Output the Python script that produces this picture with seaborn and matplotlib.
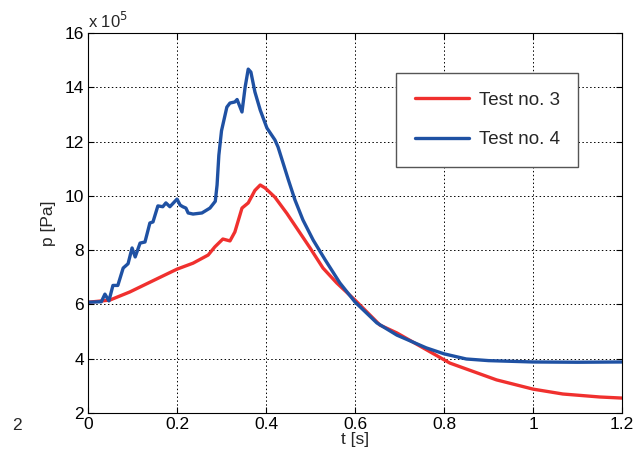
import numpy as np
import pandas as pd
import matplotlib
matplotlib.use("Agg")
import matplotlib.pyplot as plt
import seaborn as sns

# Test no. 3 (red) - time [s], pressure [x 1e5 Pa]
t_test3 = [0.0, 0.049, 0.094, 0.162, 0.2, 0.236, 0.27, 0.285, 0.303, 0.319,
           0.33, 0.346, 0.36, 0.375, 0.387, 0.398, 0.42, 0.447, 0.472, 0.499,
           0.528, 0.559, 0.6, 0.656, 0.694, 0.753, 0.813, 0.918, 1.0, 1.067,
           1.15, 1.2]
p_test3 = [6.08, 6.16, 6.46, 7.0, 7.3, 7.52, 7.82, 8.12, 8.41, 8.34,
           8.67, 9.55, 9.74, 10.2, 10.4, 10.29, 9.95, 9.35, 8.74, 8.08,
           7.34, 6.79, 6.16, 5.24, 4.95, 4.4, 3.84, 3.22, 2.88, 2.7,
           2.59, 2.55]

# Test no. 4 (blue)
t_test4 = [0.0, 0.03, 0.038, 0.047, 0.056, 0.067, 0.079, 0.09, 0.099, 0.106,
           0.117, 0.128, 0.139, 0.146, 0.157, 0.168, 0.175, 0.184, 0.2, 0.207,
           0.213, 0.22, 0.225, 0.236, 0.256, 0.274, 0.286, 0.29, 0.294, 0.3,
           0.312, 0.319, 0.33, 0.335, 0.346, 0.353, 0.36, 0.366, 0.375, 0.387,
           0.402, 0.42, 0.427, 0.45, 0.465, 0.483, 0.506, 0.533, 0.566, 0.6,
           0.649, 0.694, 0.76, 0.8, 0.85, 0.9, 1.0, 1.1, 1.2]
p_test4 = [6.08, 6.1, 6.38, 6.13, 6.7, 6.7, 7.34, 7.5, 8.08, 7.75,
           8.26, 8.3, 9.0, 9.04, 9.63, 9.6, 9.74, 9.6, 9.88, 9.66,
           9.6, 9.55, 9.37, 9.33, 9.37, 9.55, 9.8, 10.4, 11.5, 12.4,
           13.27, 13.42, 13.46, 13.55, 13.09, 14.0, 14.67, 14.56, 13.83, 13.16,
           12.5, 12.06, 11.8, 10.6, 9.85, 9.11, 8.37, 7.64, 6.79, 6.09,
           5.32, 4.87, 4.4, 4.18, 3.99, 3.93, 3.88, 3.87, 3.88]

x_ticks = [0, 0.2, 0.4, 0.6, 0.8, 1, 1.2]
x_tick_labels = ["0", "0.2", "0.4", "0.6", "0.8", "1", "1.2"]
y_ticks = [2, 4, 6, 8, 10, 12, 14, 16]

sns.set_style("white")
plt.rcParams['font.family'] = ['Liberation Sans', 'DejaVu Sans']

fig = plt.figure(figsize=(6.35, 4.54), dpi=100)
ax = fig.add_axes([0.1386, 0.0903, 0.841, 0.837])

df3 = pd.DataFrame({"t": t_test3, "p": p_test3})
df4 = pd.DataFrame({"t": t_test4, "p": p_test4})
sns.lineplot(data=df3, x="t", y="p", ax=ax, color="#f0302e", linewidth=2.4,
             label="Test no. 3", sort=False)
sns.lineplot(data=df4, x="t", y="p", ax=ax, color="#1f51a3", linewidth=2.4,
             label="Test no. 4", sort=False)

ax.set_xlim(0, 1.2)
ax.set_ylim(2, 16)
ax.set_xticks(x_ticks)
ax.set_xticklabels(x_tick_labels)
ax.set_yticks(y_ticks)
ax.tick_params(direction="in", length=4, width=0.8, labelsize=12.5, colors="black",
               top=True, right=True, bottom=True, left=True, pad=3)
ax.grid(True, color="black", linestyle=(0, (1.5, 2.5)), linewidth=0.7)
for s in ax.spines.values():
    s.set_color("black")
    s.set_linewidth(0.8)

ax.set_xlabel("t [s]", fontsize=12.5, labelpad=0)
ax.set_ylabel("p [Pa]", fontsize=12.5, labelpad=6)

ax.text(0.0, 1.005, "x 10$^{5}$", transform=ax.transAxes, fontsize=12,
        ha="left", va="bottom")
fig.text(12 / 635, 1 - 425 / 454, "2", fontsize=12.5, ha="left", va="center")

leg = ax.legend(loc="upper left", bbox_to_anchor=(0.577, 0.895), fontsize=13.5,
                frameon=True, fancybox=False, framealpha=1, edgecolor="#555555",
                handlelength=2.9, borderpad=1.0, labelspacing=1.2,
                handletextpad=0.5, borderaxespad=0)
leg.get_frame().set_linewidth(1.0)

fig.savefig("out.png", dpi=100)
